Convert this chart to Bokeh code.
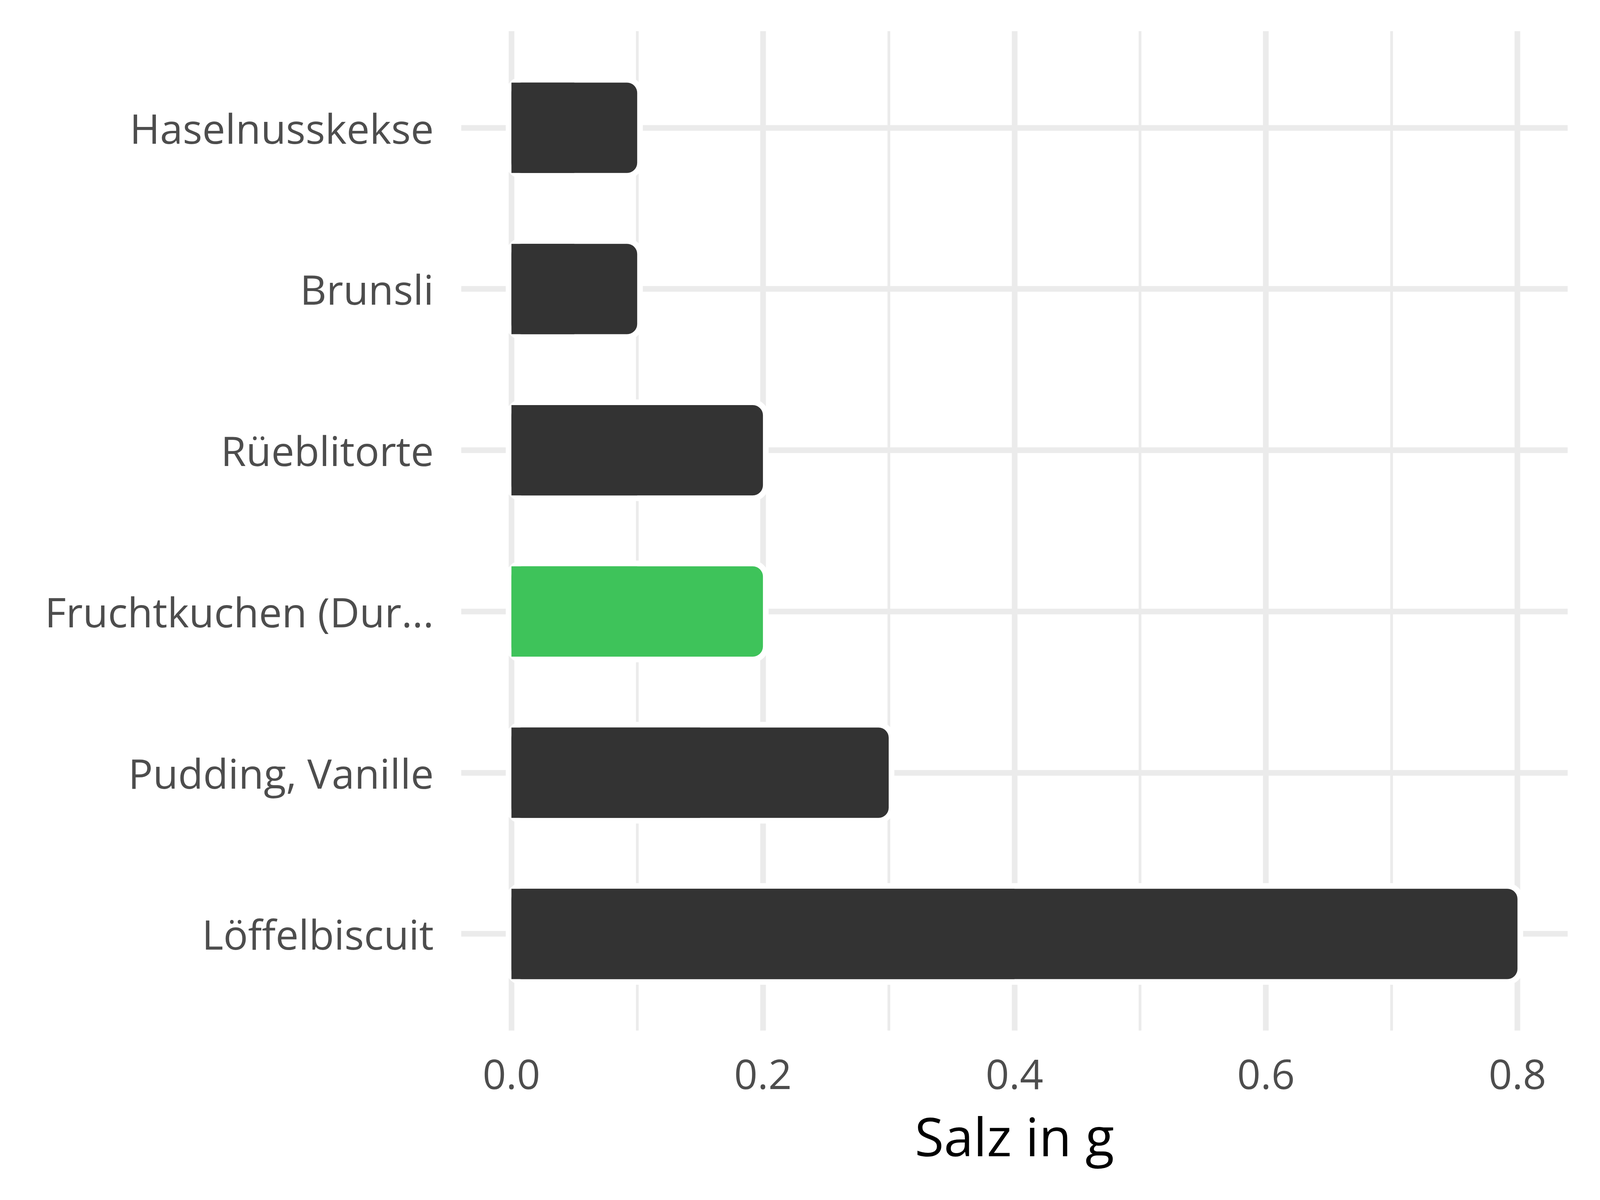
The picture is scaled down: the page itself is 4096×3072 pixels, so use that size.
from bokeh.plotting import figure
from bokeh.models import Range1d, FixedTicker, ColumnDataSource
from bokeh.embed import file_html
from bokeh.resources import INLINE

# ---- data ----
categories = ["Haselnusskekse", "Brunsli", "Rüeblitorte", "Fruchtkuchen (Dur...", "Pudding, Vanille", "Löffelbiscuit"]
values = [0.1, 0.1, 0.2, 0.2, 0.3, 0.8]
colors = ["#333333", "#333333", "#333333", "#3EC35A", "#333333", "#333333"]
x_major_ticks = [0.0, 0.2, 0.4, 0.6, 0.8]
x_minor_ticks = [0.1, 0.3, 0.5, 0.7]
x_tick_labels = ["0.0", "0.2", "0.4", "0.6", "0.8"]
x_title = "Salz in g"

n = len(categories)
ypos = [n - i for i in range(n)]  # top category first

src = ColumnDataSource(dict(
    y=ypos, right=values, half=[v / 2 for v in values], color=colors, name=categories,
))

FONT = "Open Sans"
W, H = 4080, 3056
p = figure(width=W, height=H, output_backend="svg", toolbar_location=None,
           x_range=Range1d(-0.04, 0.84), y_range=Range1d(0.4, n + 0.6))
p.min_border_left = 1180
p.min_border_right = 67
p.min_border_top = 79
p.min_border_bottom = 418
p.outline_line_color = None
p.background_fill_color = "white"
p.border_fill_color = "white"

# grids
p.xgrid.ticker = FixedTicker(ticks=x_major_ticks, minor_ticks=x_minor_ticks)
p.xgrid.grid_line_color = "#EBEBEB"
p.xgrid.grid_line_width = 14.5
p.xgrid.minor_grid_line_color = "#EBEBEB"
p.xgrid.minor_grid_line_width = 7
p.ygrid.ticker = FixedTicker(ticks=ypos)
p.ygrid.grid_line_color = "#EBEBEB"
p.ygrid.grid_line_width = 14.5

BAR_H = 0.56
RAD = 26
# white halo around rounded bars
p.hbar(y="y", left=0, right="right", height=BAR_H, source=src,
       fill_color="white", line_color="white", line_width=29, border_radius=RAD)
# rounded bar fill
p.hbar(y="y", left=0, right="right", height=BAR_H, source=src,
       fill_color="color", line_color=None, border_radius=RAD)
# square left half
p.hbar(y="y", left=0, right="half", height=BAR_H, source=src,
       fill_color="color", line_color=None)

# x axis
xa = p.xaxis[0]
xa.ticker = FixedTicker(ticks=x_major_ticks, minor_ticks=[])
xa.major_label_overrides = {t: l for t, l in zip(x_major_ticks, x_tick_labels)}
xa.axis_line_color = None
xa.major_tick_line_color = None
xa.minor_tick_line_color = None
xa.major_tick_out = 0
xa.major_label_standoff = 74
xa.major_label_text_font = FONT
xa.major_label_text_font_size = "105px"
xa.major_label_text_color = "#4D4D4D"
xa.axis_label = x_title
xa.axis_label_text_font = FONT
xa.axis_label_text_font_size = "136px"
xa.axis_label_text_font_style = "normal"
xa.axis_label_text_color = "#000000"
xa.axis_label_standoff = 24

# y axis
ya = p.yaxis[0]
ya.ticker = FixedTicker(ticks=ypos, minor_ticks=[])
ya.major_label_overrides = {y: c for y, c in zip(ypos, categories)}
ya.axis_line_color = None
ya.major_tick_line_color = None
ya.minor_tick_line_color = None
ya.major_tick_out = 0
ya.major_label_standoff = 70
ya.major_label_text_font = FONT
ya.major_label_text_font_size = "105px"
ya.major_label_text_color = "#4D4D4D"

open("out.html", "w").write(file_html(p, INLINE))
